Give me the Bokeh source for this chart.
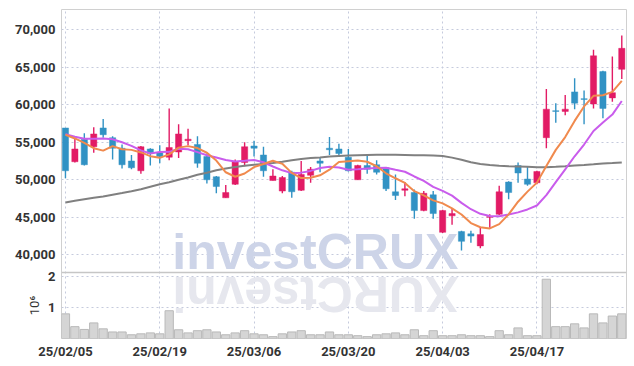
import math
from bokeh.plotting import figure
from bokeh.models import (ColumnDataSource, Range1d, FixedTicker, Label, NumeralTickFormatter,
                          Grid, Span, GridBox)
from bokeh.embed import file_html
from bokeh.resources import INLINE

dates = ["25/02/05", "25/02/06", "25/02/07", "25/02/10", "25/02/11", "25/02/12", "25/02/13", "25/02/14",
         "25/02/17", "25/02/18", "25/02/19", "25/02/20", "25/02/21", "25/02/24", "25/02/25", "25/02/26",
         "25/02/27", "25/02/28", "25/03/04", "25/03/05", "25/03/06", "25/03/07", "25/03/10", "25/03/11",
         "25/03/12", "25/03/13", "25/03/14", "25/03/17", "25/03/18", "25/03/19", "25/03/20", "25/03/21",
         "25/03/24", "25/03/25", "25/03/26", "25/03/27", "25/03/28", "25/03/31", "25/04/01", "25/04/02",
         "25/04/03", "25/04/04", "25/04/07", "25/04/08", "25/04/09", "25/04/10", "25/04/11", "25/04/14",
         "25/04/15", "25/04/16", "25/04/17", "25/04/18", "25/04/21", "25/04/22", "25/04/23", "25/04/24",
         "25/04/25", "25/04/28", "25/04/29", "25/04/30"]

opens = [56900, 52400, 55400, 54400, 56900, 55600, 54200, 52500, 51200, 54100,
         53600, 53000, 53700, 55200, 54700, 53100, 50400, 47600, 49400, 52300,
         54500, 53300, 49900, 48500, 51000, 48600, 50600, 52500, 54200, 54100,
         53000, 50000, 51900, 52000, 51600, 48400, 48600, 48300, 45900, 48000,
         43000, 45200, 43100, 42800, 41200, 45000, 45400, 49700, 51900, 50100,
         49600, 55600, 59200, 59100, 61700, 60800, 60100, 64400, 60900, 64700]
highs = [56900, 55600, 56200, 57000, 58100, 55800, 54700, 53300, 54500, 54200,
         54600, 59500, 57400, 56800, 55800, 53500, 50500, 49300, 52700, 55000,
         55200, 54400, 51400, 50500, 51200, 52500, 51700, 53000, 55700, 54800,
         54100, 52000, 53200, 52600, 51700, 50700, 49700, 48700, 48500, 48500,
         46000, 46100, 43200, 43200, 43700, 45400, 49200, 49800, 52300, 51800,
         51200, 62100, 60200, 61300, 63500, 61900, 67300, 64500, 66400, 69200]
lows = [50200, 52300, 51900, 53600, 55600, 52700, 51500, 51400, 50800, 51900,
        52200, 52600, 52900, 54600, 51600, 49500, 48200, 47600, 49300, 51800,
        53100, 50400, 49900, 48200, 47600, 48500, 49600, 51000, 53300, 53300,
        51100, 50000, 50800, 50700, 48500, 47300, 47800, 44800, 45800, 44800,
        42900, 44000, 40600, 41600, 40900, 43600, 45300, 47400, 49600, 49200,
        49400, 54200, 57600, 58600, 59400, 57400, 59500, 58200, 60400, 63400]
closes = [51200, 54100, 52000, 56100, 56000, 54200, 52000, 51600, 54400, 53500,
          53100, 54300, 56100, 55400, 52200, 50000, 49100, 48300, 52400, 54400,
          54200, 51200, 50500, 50300, 48400, 50700, 51400, 52200, 54000, 53500,
          51200, 51900, 51400, 51000, 48800, 47900, 48800, 45900, 48200, 45500,
          45900, 45500, 41800, 42500, 42700, 45100, 48400, 48300, 50900, 49400,
          51100, 59400, 59100, 59400, 60200, 60700, 66500, 59500, 61600, 67500]
volume_m = [0.79, 0.38, 0.29, 0.50, 0.31, 0.21, 0.21, 0.12, 0.15, 0.18,
            0.15, 0.89, 0.28, 0.18, 0.25, 0.28, 0.21, 0.12, 0.18, 0.25,
            0.15, 0.12, 0.06, 0.15, 0.21, 0.25, 0.12, 0.12, 0.21, 0.12,
            0.12, 0.09, 0.06, 0.12, 0.15, 0.18, 0.12, 0.28, 0.09, 0.25,
            0.09, 0.09, 0.12, 0.09, 0.09, 0.06, 0.25, 0.12, 0.34, 0.09,
            0.09, 1.90, 0.38, 0.38, 0.47, 0.34, 0.79, 0.50, 0.72, 0.79]
ma5 = [56000, 55500, 54900, 54200, 53880, 54480, 54060, 53980, 53640, 53140,
       52920, 53380, 54280, 54480, 54220, 53600, 52560, 51000, 50400, 50840,
       51680, 52100, 52540, 52120, 50920, 50220, 50260, 50600, 51340, 52360,
       52460, 52560, 52400, 51800, 50860, 50200, 49580, 48480, 47920, 47260,
       46860, 46200, 45380, 44240, 43680, 43520, 44100, 45400, 47080, 48420,
       49620, 51820, 53980, 55680, 57840, 59760, 61180, 61260, 61700, 63160]
ma10 = [56080, 55720, 55450, 55450, 55480, 55390, 54990, 54520, 53900, 53510,
        53700, 53720, 54130, 54060, 53680, 53260, 52970, 52640, 52440, 52530,
        52640, 52330, 51770, 51260, 50880, 50950, 51180, 51570, 51730, 51640,
        51340, 51410, 51500, 51570, 51610, 51330, 51070, 50440, 49860, 49060,
        48530, 47890, 46930, 46080, 45470, 45190, 45150, 45390, 45660, 46050,
        46570, 47960, 49690, 51380, 53130, 54690, 56500, 57620, 58680, 60490]
ma60 = [46980, 47210, 47410, 47610, 47770, 48000, 48230, 48470, 48740, 49070,
        49400, 49670, 50000, 50310, 50670, 50930, 51260, 51490, 51690, 51860,
        52000, 52100, 52230, 52390, 52590, 52770, 52890, 52980, 53090, 53170,
        53220, 53260, 53300, 53330, 53330, 53330, 53300, 53270, 53250, 53220,
        53170, 52950, 52660, 52330, 52100, 51960, 51860, 51810, 51770, 51730,
        51680, 51680, 51730, 51800, 51890, 51970, 52060, 52170, 52220, 52300]
price_ticks = [40000, 45000, 50000, 55000, 60000, 65000, 70000]
volume_ticks = [1, 2]
date_tick_idx = [0, 10, 20, 30, 40, 50]

RED = "#e21b65"
BLUE = "#3192c4"
GRID = "#c5cadd"
FONT = "Roboto"
TXT = "#333333"

# one frame: price panel on top, volume panel below the split level
PRICE_LO, PRICE_HI = 28870, 72667
PRICE_SPLIT = 37667
VOL_LO, VOL_HI = 0, 10.545

idx = list(range(len(dates)))
src = ColumnDataSource(dict(
    x=idx, o=opens, h=highs, l=lows, c=closes,
    top=[max(o, c) for o, c in zip(opens, closes)],
    bottom=[min(o, c) for o, c in zip(opens, closes)],
    color=[RED if c > o else BLUE for o, c in zip(opens, closes)],
    vol=volume_m, ma5=ma5, ma10=ma10, ma60=ma60,
))

p = figure(width=630, height=366, x_range=Range1d(-0.42, 59.5),
           y_range=Range1d(PRICE_LO, PRICE_HI),
           output_backend="svg", toolbar_location=None,
           min_border_left=61, min_border_right=4, min_border_top=9, min_border_bottom=28)
p.frame_align = False
p.extra_y_ranges = {"vol": Range1d(VOL_LO, VOL_HI)}
p.outline_line_color = "#d0d0d0"
p.background_fill_color = "white"
p.border_fill_color = "white"

# grids
p.xgrid.ticker = FixedTicker(ticks=date_tick_idx)
p.xgrid.grid_line_color = GRID
p.xgrid.grid_line_dash = "2 3"
p.ygrid.ticker = FixedTicker(ticks=price_ticks)
p.ygrid.grid_line_color = GRID
p.ygrid.grid_line_dash = "2 3"
p.add_layout(Grid(dimension=1, y_range_name="vol", ticker=FixedTicker(ticks=volume_ticks),
                  grid_line_color=GRID, grid_line_dash="2 3"))

# left axis: price ticks plus the volume ticks mapped into the same frame
scale = (PRICE_HI - PRICE_LO) / (VOL_HI - VOL_LO)
vol_tick_pos = [round(PRICE_LO + (v - VOL_LO) * scale) for v in volume_ticks]
p.yaxis.ticker = FixedTicker(ticks=vol_tick_pos + price_ticks)
p.yaxis.formatter = NumeralTickFormatter(format="0,0")
p.yaxis.major_label_overrides = {pos: str(v) for pos, v in zip(vol_tick_pos, volume_ticks)}
p.yaxis.axis_line_color = None
p.yaxis.major_tick_line_color = None
p.yaxis.minor_tick_line_color = None
p.yaxis.major_tick_out = 0
p.yaxis.major_label_standoff = 6
p.yaxis.major_label_text_font = FONT
p.yaxis.major_label_text_font_style = "bold"
p.yaxis.major_label_text_font_size = "13px"
p.yaxis.major_label_text_color = TXT

p.xaxis.ticker = FixedTicker(ticks=date_tick_idx)
p.xaxis.major_label_overrides = {i: dates[i] for i in date_tick_idx}
p.xaxis.axis_line_color = None
p.xaxis.major_tick_line_color = None
p.xaxis.minor_tick_line_color = None
p.xaxis.major_tick_out = 0
p.xaxis.major_label_standoff = 5
p.xaxis.major_label_text_font = FONT
p.xaxis.major_label_text_font_style = "bold"
p.xaxis.major_label_text_font_size = "13px"
p.xaxis.major_label_text_color = TXT

# watermark with its reflection
p.add_layout(Label(x=26.5, y=40400, text="investCRUX", text_font="Liberation Sans",
                   text_font_style="bold", text_font_size="50px", text_color="#cdd4e8",
                   text_baseline="middle", text_align="center", level="underlay"))
p.add_layout(Label(x=26.5, y=34730, text="XURCtsevni", text_font="Liberation Sans",
                   text_font_style="bold", text_font_size="50px", text_color="#e6e7ee",
                   text_baseline="middle", text_align="center", angle=math.pi,
                   level="underlay"))

# panel separator
p.add_layout(Span(location=PRICE_SPLIT, dimension="width", line_color="#c6c6c6", line_width=1.5))

# volume
p.vbar(x="x", width=0.88, top="vol", bottom=0, fill_color="#d5d5d5",
       line_color="#b9b9b9", line_width=1, source=src, y_range_name="vol")

# candles
p.segment(x0="x", y0="l", x1="x", y1="h", line_color="color", line_width=1.4, source=src)
p.vbar(x="x", width=0.66, top="top", bottom="bottom", fill_color="color",
       line_color="color", line_alpha=0.45, line_width=1, source=src)

# moving averages
p.line("x", "ma60", source=src, line_color="#808080", line_width=2)
p.line("x", "ma10", source=src, line_color="#c95cec", line_width=2)
p.line("x", "ma5", source=src, line_color="#f08a4e", line_width=2)

# transparent overlay carrying only the volume unit label beside the volume panel
ov = figure(width=630, height=366, x_range=Range1d(0, 1), y_range=Range1d(VOL_LO, 2.14),
            output_backend="svg", toolbar_location=None, x_axis_location=None,
            min_border_left=61, min_border_right=4, min_border_top=272, min_border_bottom=28)
ov.frame_align = False
ov.background_fill_alpha = 0
ov.border_fill_alpha = 0
ov.outline_line_color = None
ov.grid.visible = False
ov.yaxis.ticker = FixedTicker(ticks=[])
ov.yaxis.axis_line_color = None
ov.yaxis.major_tick_line_color = None
ov.yaxis.minor_tick_line_color = None
ov.yaxis.major_tick_out = 0
ov.yaxis.axis_label = "10\u2076"
ov.yaxis.axis_label_standoff = 20
ov.yaxis.axis_label_text_font = FONT
ov.yaxis.axis_label_text_font_style = "normal"
ov.yaxis.axis_label_text_font_size = "13px"
ov.yaxis.axis_label_text_color = TXT

layout = GridBox(children=[(p, 0, 0), (ov, 0, 0)])
open("out.html", "w").write(file_html(layout, INLINE))
